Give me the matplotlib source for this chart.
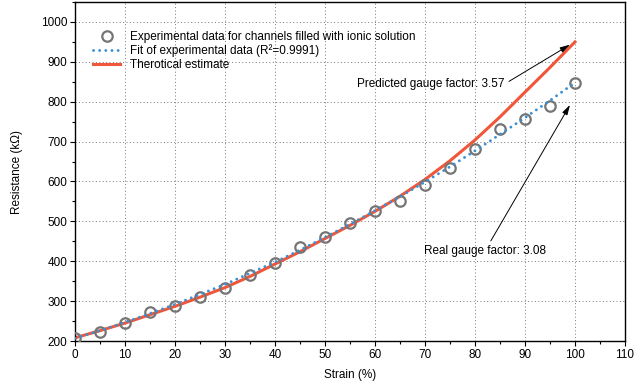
import matplotlib
matplotlib.use("Agg")
import matplotlib.pyplot as plt
from matplotlib.ticker import MultipleLocator

plt.rcParams['font.family'] = ['Liberation Sans', 'DejaVu Sans']

# strain (%) and measured resistance (kOhm)
strain = [0, 5, 10, 15, 20, 25, 30, 35, 40, 45, 50, 55, 60, 65, 70, 75, 80, 85, 90, 95, 100]
measured = [207, 223, 246, 272, 288, 311, 332, 366, 396, 435, 460, 495, 527, 552, 591, 633, 681, 731, 756, 789, 846]
fitted = [207, 226, 247, 269, 292, 317, 342, 370, 398, 428, 460, 493, 527, 562, 599, 637, 677, 718, 760, 803, 848]
# theoretical estimate
theory = [208, 226, 245, 266, 287, 310, 334, 362, 393, 424, 457, 490, 525, 563, 605, 652, 704, 762, 824, 886, 950]

x_ticks = [0, 10, 20, 30, 40, 50, 60, 70, 80, 90, 100, 110]
y_ticks = [200, 300, 400, 500, 600, 700, 800, 900, 1000]

red = '#f0573a'
blue = '#3b8fd2'
grey = '#757575'
fs = 8.5

fig = plt.figure(figsize=(6.34, 3.88), dpi=100)
ax = fig.add_axes([0.1183, 0.1211, 0.8675, 0.8737])

ax.plot(strain, measured, linestyle='none', marker='o', markersize=7.5,
        markerfacecolor='none', markeredgecolor=grey, markeredgewidth=1.6,
        label='Experimental data for channels filled with ionic solution', zorder=3)
ax.plot(strain, fitted, color=blue, linewidth=2.1, linestyle=(0, (0.01, 2.1)),
        dash_capstyle='round', label='Fit of experimental data (R\u00b2=0.9991)', zorder=4)
ax.plot(strain, theory, color=red, linewidth=2.2, label='Therotical estimate', zorder=2)

ax.annotate('Predicted gauge factor: 3.57', xy=(99, 943), xytext=(86.0, 845),
            ha='right', va='center', fontsize=fs,
            arrowprops=dict(arrowstyle='-|>,head_length=0.7,head_width=0.2',
                            color='black', lw=0.7, relpos=(1, 0.5), shrinkA=1, shrinkB=0))
ax.annotate('Real gauge factor: 3.08', xy=(99, 792), xytext=(82, 426),
            ha='center', va='center', fontsize=fs,
            arrowprops=dict(arrowstyle='-|>,head_length=0.7,head_width=0.2',
                            color='black', lw=0.7, shrinkA=1, shrinkB=0))

ax.set_xlim(0, 110)
ax.set_ylim(200, 1050)
ax.set_xticks(x_ticks)
ax.set_yticks(y_ticks)
ax.xaxis.set_minor_locator(MultipleLocator(5))
ax.yaxis.set_minor_locator(MultipleLocator(50))
ax.tick_params(which='major', direction='out', length=3.5, width=0.8, labelsize=fs, pad=2)
ax.tick_params(which='minor', direction='out', length=2.5, width=0.8)
ax.grid(True, which='major', linestyle=(0, (1, 2.5)), color='#777777', linewidth=0.7)
for s in ax.spines.values():
    s.set_linewidth(1.0)

ax.set_xlabel('Strain (%)', fontsize=fs, labelpad=6)
ax.set_ylabel('Resistance (k\u03a9)', fontsize=fs, labelpad=13)

ax.legend(loc='upper left', bbox_to_anchor=(0.024, 0.929), frameon=False, fontsize=fs,
          handlelength=2.3, handletextpad=0.85, labelspacing=0.13, borderaxespad=0)

fig.savefig('out.png', dpi=100)
